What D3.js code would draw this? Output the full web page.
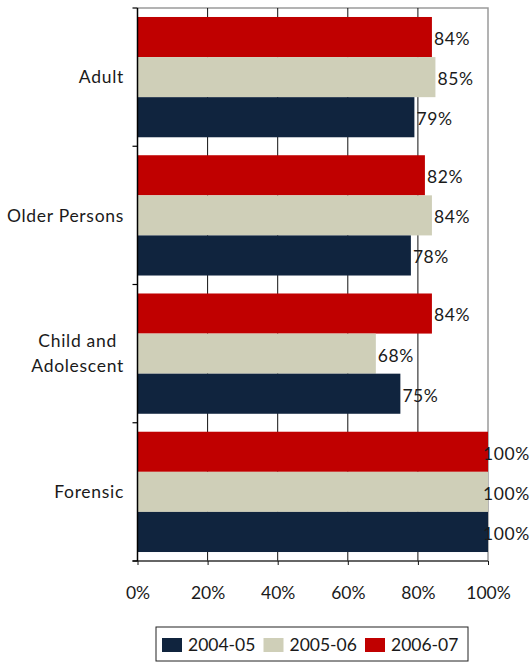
<!DOCTYPE html>
<html>
<head>
<script src="https://d3js.org/d3.v7.min.js"></script>
<style>
  body { margin: 0; background: #fff; }
  text { font-family: Lato, "Open Sans", sans-serif; fill: #1a1a1a; }
</style>
</head>
<body>
<svg id="chart" width="530" height="662"></svg>
<script>
// data
var categories = ['Adult', 'Older Persons', 'Child and Adolescent', 'Forensic']
var catLines = [['Adult'], ['Older Persons'], ['Child and', 'Adolescent'], ['Forensic']]
var seriesNames = ['2006-07', '2005-06', '2004-05']   // top to bottom in each group
var values0607 = [84, 82, 84, 100]
var values0506 = [85, 84, 68, 100]
var values0405 = [79, 78, 75, 100]
var xTicks = [0, 20, 40, 60, 80, 100]
var legendNames = ['2004-05', '2005-06', '2006-07']

var colors = { '2004-05': '#10243e', '2005-06': '#cfcfb8', '2006-07': '#c00000' }
var seriesValues = { '2006-07': values0607, '2005-06': values0506, '2004-05': values0405 }

var svg = d3.select('#chart')
var pLeft = 137.5, pRight = 488, pTop = 8, pBottom = 561
var fs = '17.5px'

var x = d3.scaleLinear().domain([0, 100]).range([pLeft, pRight])
var y = d3.scaleBand().domain(categories).range([pTop, pBottom])
    .paddingInner(0.13).paddingOuter(0.065)
var ySub = d3.scaleBand().domain(seriesNames).range([0, y.bandwidth()])

// plot border (top + right), gray
svg.append('path')
    .attr('d', 'M' + pLeft + ',' + pTop + 'H' + pRight + 'V' + pBottom)
    .attr('fill', 'none').attr('stroke', '#9a9a9a').attr('stroke-width', 1.5)

// gridlines
svg.append('g').selectAll('line')
    .data(xTicks.filter(function(d) { return d > 0 && d < 100 }))
    .enter().append('line')
    .attr('x1', function(d) { return x(d) }).attr('x2', function(d) { return x(d) })
    .attr('y1', pTop).attr('y2', pBottom)
    .attr('stroke', '#111').attr('stroke-width', 1)

// bars
var rows = []
categories.forEach(function(c, i) {
    seriesNames.forEach(function(s) {
        rows.push({ cat: c, series: s, value: seriesValues[s][i] })
    })
})

svg.append('g').selectAll('rect')
    .data(rows).enter().append('rect')
    .attr('x', x(0))
    .attr('y', function(d) { return y(d.cat) + ySub(d.series) })
    .attr('width', function(d) { return x(d.value) - x(0) })
    .attr('height', ySub.bandwidth())
    .attr('fill', function(d) { return colors[d.series] })

// value labels
svg.append('g').selectAll('text')
    .data(rows).enter().append('text')
    .attr('x', function(d) { return x(d.value) + (d.value >= 100 ? -5 : 2) })
    .attr('y', function(d) { return y(d.cat) + ySub(d.series) + ySub.bandwidth() / 2 })
    .attr('dy', '0.45em')
    .style('font-size', fs).style('letter-spacing', '0.6px')
    .text(function(d) { return d.value + '%' })

// x axis
var xAxis = d3.axisBottom(x).tickValues(xTicks)
    .tickFormat(function(d) { return d + '%' })
    .tickSize(4).tickSizeOuter(0).tickPadding(22)
var gx = svg.append('g')
    .attr('transform', 'translate(0,' + pBottom + ')')
    .call(xAxis)
gx.select('.domain').attr('stroke', '#333').attr('stroke-width', 1.5)
    .attr('d', 'M' + (pLeft - 5) + ',0H' + pRight)
gx.selectAll('.tick line').attr('stroke', '#111')
gx.selectAll('.tick text').style('font-size', fs).attr('font-family', null).attr('fill', '#1a1a1a')

// y axis: line + ticks at category boundaries
var bounds = d3.range(categories.length + 1).map(function(i) { return pTop + i * y.step() })
svg.append('line')
    .attr('x1', pLeft).attr('x2', pLeft).attr('y1', pTop).attr('y2', pBottom)
    .attr('stroke', '#000').attr('stroke-width', 1.5)
svg.append('g').selectAll('line')
    .data(bounds).enter().append('line')
    .attr('x1', pLeft - 5).attr('x2', pLeft)
    .attr('y1', function(d) { return d }).attr('y2', function(d) { return d })
    .attr('stroke', '#000').attr('stroke-width', 1.2)

// category labels
categories.forEach(function(c, i) {
    var lines = catLines[i]
    var cy = y(c) + y.bandwidth() / 2
    var lh = 25
    var g = svg.append('g')
    var t = g.append('text').attr('text-anchor', 'middle')
        .style('font-size', fs).style('letter-spacing', '0.7px')
    lines.forEach(function(l, j) {
        t.append('tspan').attr('x', 0)
            .attr('y', cy + (j - (lines.length - 1) / 2) * lh)
            .attr('dy', '0.36em').text(l)
    })
    var w = t.node().getBBox().width
    g.attr('transform', 'translate(' + (124 - w / 2) + ',0)')
})

// legend
var lg = svg.append('g')
lg.append('rect').attr('x', 156).attr('y', 627).attr('width', 312).attr('height', 34)
    .attr('fill', '#fff').attr('stroke', '#222').attr('stroke-width', 1)
var legX = d3.scalePoint().domain(legendNames).range([162, 365])
legendNames.forEach(function(n) {
    lg.append('rect').attr('x', legX(n)).attr('y', 638).attr('width', 20).attr('height', 14)
        .attr('fill', colors[n])
    lg.append('text').attr('x', legX(n) + 26).attr('y', 645).attr('dy', '0.36em')
        .style('font-size', fs).text(n)
})
</script>
</body>
</html>
